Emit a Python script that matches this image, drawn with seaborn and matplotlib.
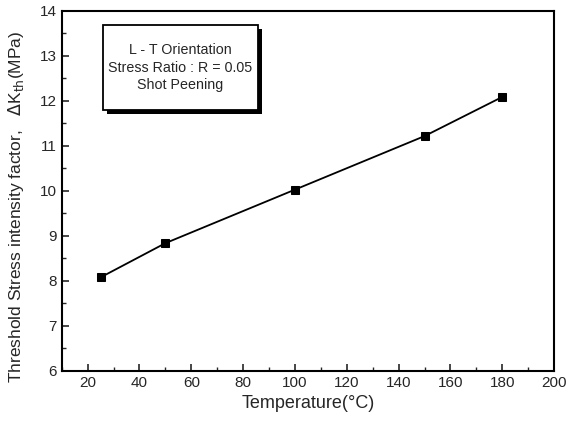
import matplotlib
matplotlib.use('Agg')
import matplotlib.pyplot as plt
from matplotlib.patches import Rectangle
from matplotlib.ticker import MultipleLocator
import matplotlib.patheffects as pe
import pandas as pd
import seaborn as sns

# --- DATA ---
temperature = [25, 50, 100, 150, 180]
delta_k_th = [8.08, 8.84, 10.03, 11.22, 12.09]

df = pd.DataFrame({"temp": temperature, "dk": delta_k_th})

sns.set_style("ticks")
plt.rcParams['font.family'] = ['Liberation Sans', 'DejaVu Sans']

fig = plt.figure(figsize=(5.66, 4.23), dpi=100)
ax = fig.add_axes([0.109, 0.123, 0.870, 0.851])

sns.lineplot(data=df, x="temp", y="dk", ax=ax, color='black', linewidth=1.3,
             marker='s', markersize=6, markeredgecolor='black', markerfacecolor='black')

ax.set_xlim(10, 200)
ax.set_ylim(6, 14)
ax.xaxis.set_major_locator(MultipleLocator(20))
ax.xaxis.set_minor_locator(MultipleLocator(10))
ax.yaxis.set_major_locator(MultipleLocator(1))
ax.yaxis.set_minor_locator(MultipleLocator(0.5))
ax.tick_params(which='both', direction='in', top=False, right=False, labelsize=11)
ax.tick_params(which='major', length=5, width=1.2)
ax.tick_params(which='minor', length=3, width=1.0)
for s in ax.spines.values():
    s.set_linewidth(1.5)
    s.set_color('black')

ax.set_xlabel("Temperature(°C)", fontsize=13)
ax.set_ylabel(r"Threshold Stress intensity factor,   $\Delta$K$_{\rm th}$(MPa)", fontsize=12.5)
ax.yaxis.set_label_coords(-0.073, 0.455)

# annotation box with drop shadow
box = Rectangle((0.0833, 0.725), 0.316, 0.236, transform=ax.transAxes,
                facecolor='white', edgecolor='black', linewidth=1.3, zorder=3,
                path_effects=[pe.SimplePatchShadow(offset=(3, -3), shadow_rgbFace='black', alpha=1.0),
                              pe.Normal()])
ax.add_patch(box)
ax.text(0.241, 0.843, "L - T Orientation\nStress Ratio : R = 0.05\nShot Peening",
        transform=ax.transAxes, ha='center', va='center', fontsize=10.3,
        linespacing=1.32, zorder=4)

fig.savefig("out.png", dpi=100)
plt.close(fig)
